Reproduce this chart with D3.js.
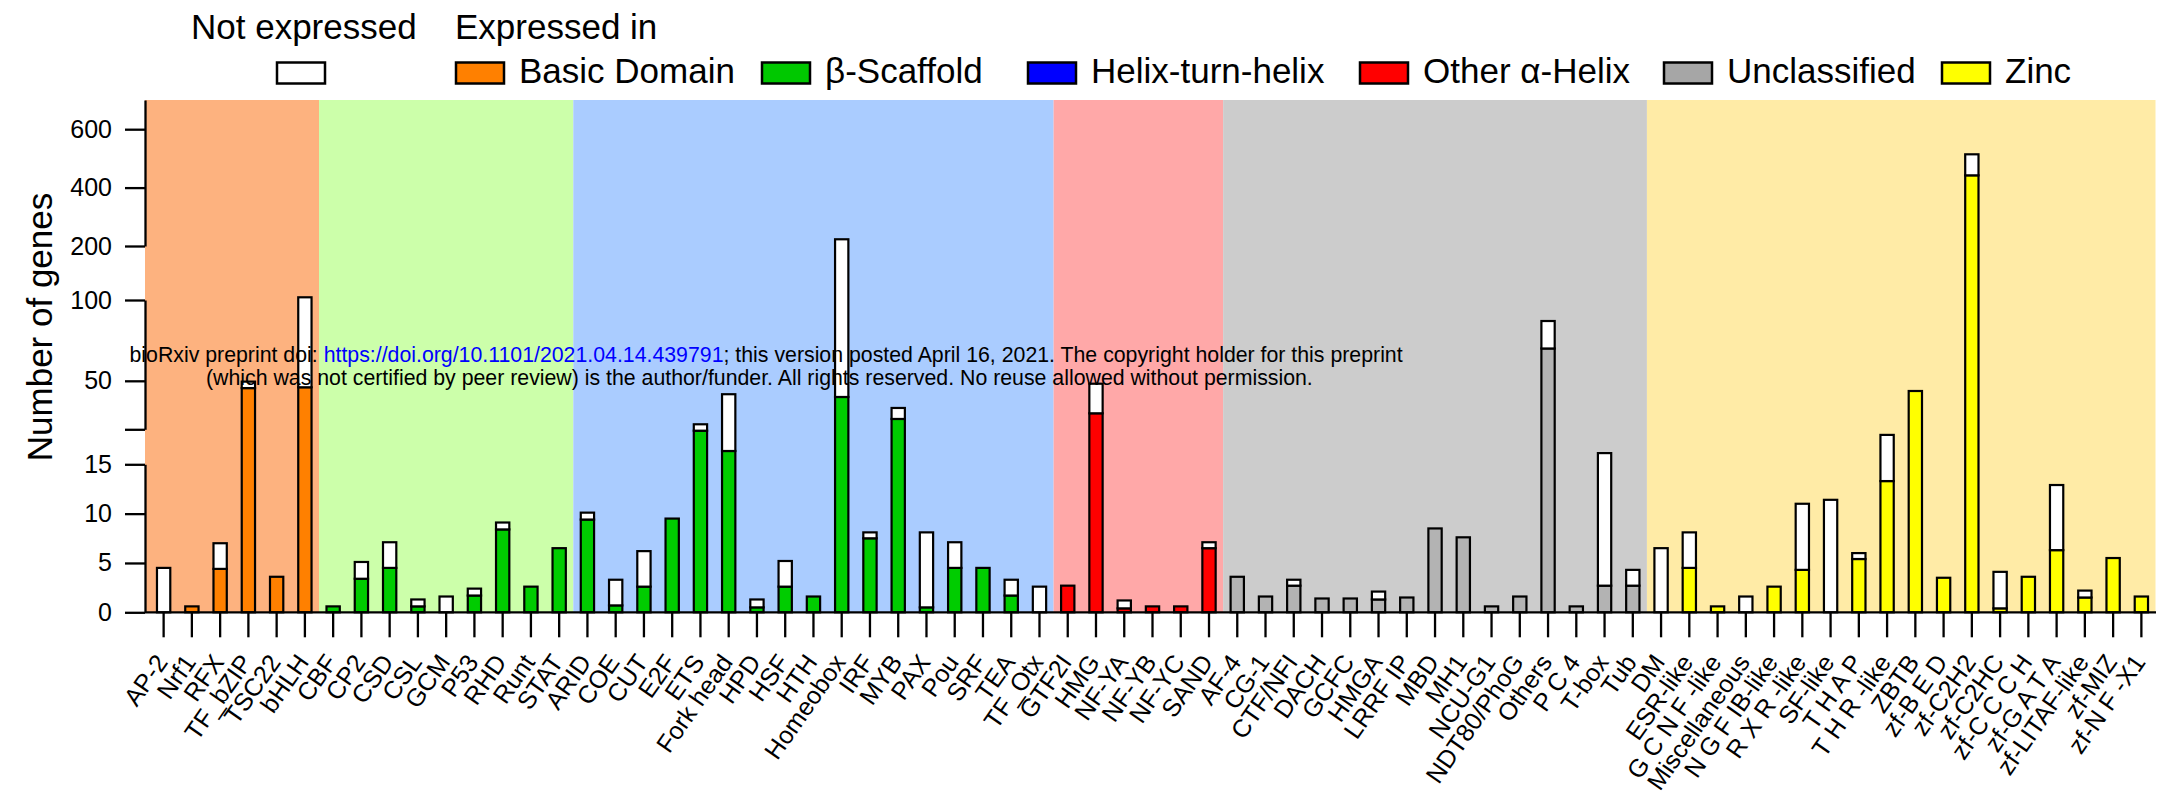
<!DOCTYPE html>
<html>
<head>
<meta charset="utf-8">
<script src="https://cdn.jsdelivr.net/npm/d3@7"></script>
<style>
  html, body { margin: 0; padding: 0; background: #ffffff; }
  svg { display: block; font-family: "Liberation Sans", Arial, Helvetica, sans-serif; }
</style>
</head>
<body>
<svg id="chart" width="2181" height="800"></svg>
<script>
// Transcription-factor families, in plotting order
const families = [
  "AP-2", "Nrf1", "RFX", "TF_bZIP", "TSC22", "bHLH",
  "CBF", "CP2", "CSD", "CSL", "GCM", "P53", "RHD", "Runt", "STAT",
  "ARID", "COE", "CUT", "E2F", "ETS", "Fork head", "HPD", "HSF", "HTH", "Homeobox",
  "IRF", "MYB", "PAX", "Pou", "SRF", "TEA", "TF_Otx",
  "GTF2I", "HMG", "NF-YA", "NF-YB", "NF-YC", "SAND",
  "AF-4", "CG-1", "CTF/NFI", "DACH", "GCFC", "HMGA", "LRRF IP", "MBD", "MH1", "NCU-G1",
  "NDT80/PhoG", "Others", "P C 4", "T-box", "Tub",
  "DM", "ESR-like", "G C N F -like", "Miscellaneous", "N G F IB-like", "R X R -like", "SF-like",
  "T H A P", "T H R -like", "ZBTB", "zf-B E D", "zf-C2H2", "zf-C2HC", "zf-C C C H", "zf-G A T A",
  "zf-LITAF-like", "zf-MIZ", "zf-N F -X1"
];

// Superclasses and how many consecutive families belong to each
const groupNames = ["Basic Domain", "β-Scaffold", "Helix-turn-helix", "Other α-Helix", "Unclassified", "Zinc"];
const groupSizes = [6, 9, 17, 6, 15, 18];

// Genes expressed per family
const expressed = [
  0, 0.6, 4.4, 45.5, 3.6, 46,
  0.6, 3.4, 4.5, 0.6, 0, 1.7, 8.4, 2.6, 6.5,
  9.4, 0.7, 2.6, 9.5, 19.8, 16.9, 0.5, 2.6, 1.6, 40,
  7.5, 26.4, 0.5, 4.5, 4.5, 1.7, 0,
  2.7, 29.9, 0.4, 0.6, 0.6, 6.5,
  3.6, 1.6, 2.7, 1.4, 1.4, 1.3, 1.5, 8.5, 7.6, 0.6,
  1.6, 70, 0.6, 2.7, 2.7,
  0, 4.5, 0.6, 0, 2.6, 4.3, 0,
  5.4, 13.3, 43.7, 3.5, 442, 0.4, 3.6, 6.3,
  1.5, 5.5, 1.6
];

// Genes not expressed per family (stacked on top)
const notExpressed = [
  4.5, 0, 2.6, 4.0, 0, 59,
  0, 1.7, 2.6, 0.7, 1.6, 0.7, 0.7, 0, 0,
  0.7, 2.6, 3.6, 0, 3.3, 24.8, 0.8, 2.6, 0, 183,
  0.6, 6.8, 7.6, 2.6, 0, 1.6, 2.6,
  0, 18.3, 0.8, 0, 0, 0.6,
  0, 0, 0.6, 0, 0, 0.8, 0, 0, 0, 0,
  0, 17, 0, 13.9, 1.6,
  6.5, 3.6, 0, 1.6, 0, 6.7, 11.4,
  0.6, 5.9, 0, 0, 72, 3.7, 0, 6.6,
  0.7, 0, 0
];

// Broken y axis: three linear segments and their ticks
const ySegments = [[0, 15], [20, 100], [200, 700]];
const yTickSets = [[0, 5, 10, 15], [20, 50, 100], [200, 400, 600]];
const yUnlabeled = [20];

// Colours
const bgColors  = ["#fdb27f", "#ccffaa", "#aaccff", "#ffa8a8", "#cccccc", "#ffeba6"];
const barColors = ["#ff8000", "#00cc00", "#00cc00", "#ff0000", "#b3b3b3", "#ffff00"];
const keyColors = ["#ff8000", "#00c800", "#0000ff", "#ff0000", "#a6a6a6", "#ffff00"];

const svg = d3.select("#chart");
svg.append("rect").attr("width", 2181).attr("height", 800).attr("fill", "#ffffff");

const axisX = 145;
const x = d3.scaleBand().domain(families).range([149.5, 2155.5]).padding(0);
const y = d3.scaleLinear()
  .domain([0, 15, 20, 100, 200, 700])
  .range([612.3, 464.3, 429.3, 300, 246, 100]);

// group index of each family
const familyGroup = [];
groupSizes.forEach((n, g) => { for (let i = 0; i < n; i++) familyGroup.push(g); });

// Background bands for each superclass
let start = 0;
const bands = groupSizes.map((n, g) => {
  const first = families[start], last = families[start + n - 1];
  start += n;
  return { g, x0: g === 0 ? axisX : x(first), x1: x(last) + x.bandwidth() };
});
svg.append("g").selectAll("rect").data(bands).join("rect")
  .attr("x", d => d.x0).attr("width", d => d.x1 - d.x0)
  .attr("y", y(700)).attr("height", y(0) - y(700))
  .attr("fill", d => bgColors[d.g]);

// Stacked bars
const barW = 13.3;
const rows = families.map((f, i) => ({
  f, g: familyGroup[i], e: expressed[i], n: notExpressed[i]
}));
const bars = svg.append("g").attr("stroke", "#000").attr("stroke-width", 2.2);
bars.selectAll("rect.expr").data(rows.filter(d => d.e > 0)).join("rect")
  .attr("class", "expr")
  .attr("x", d => x(d.f) + x.bandwidth() / 2 - barW / 2).attr("width", barW)
  .attr("y", d => y(d.e)).attr("height", d => y(0) - y(d.e))
  .attr("fill", d => barColors[d.g]);
bars.selectAll("rect.nexp").data(rows.filter(d => d.n > 0)).join("rect")
  .attr("class", "nexp")
  .attr("x", d => x(d.f) + x.bandwidth() / 2 - barW / 2).attr("width", barW)
  .attr("y", d => y(d.e + d.n)).attr("height", d => y(d.e) - y(d.e + d.n))
  .attr("fill", "#ffffff");

// Preprint notice
const note = svg.append("g").attr("font-size", 21.3).attr("fill", "#000");
const l1 = note.append("text").attr("x", 129.5).attr("y", 362);
l1.append("tspan").text("bioRxiv preprint doi: ");
l1.append("tspan").attr("fill", "#0000ff").text("https://doi.org/10.1101/2021.04.14.439791");
l1.append("tspan").text("; this version posted April 16, 2021. The copyright holder for this preprint");
note.append("text").attr("x", 206).attr("y", 384.5)
  .text("(which was not certified by peer review) is the author/funder. All rights reserved. No reuse allowed without permission.");

// X axis: baseline, ticks and rotated family names
svg.append("line")
  .attr("x1", axisX).attr("x2", 2156).attr("y1", y(0)).attr("y2", y(0))
  .attr("stroke", "#000").attr("stroke-width", 2.3);
const xAxis = svg.append("g").attr("transform", `translate(0,${y(0)})`)
  .call(d3.axisBottom(x).tickSize(25).tickSizeOuter(0));
xAxis.select(".domain").remove();
xAxis.selectAll(".tick line").attr("stroke", "#000").attr("stroke-width", 2.3);
xAxis.selectAll(".tick text")
  .attr("fill", "#000").attr("font-size", 25)
  .attr("x", 0).attr("y", 0).attr("dy", 0)
  .attr("text-anchor", "end")
  .attr("transform", "translate(5,50) rotate(-55)");

// Y axis: one d3 axis per segment
ySegments.forEach((dom, k) => {
  const seg = d3.scaleLinear().domain(dom).range([y(dom[0]), y(dom[1])]);
  const ax = svg.append("g").attr("transform", `translate(${axisX},0)`)
    .call(d3.axisLeft(seg).tickValues(yTickSets[k]).tickSize(20).tickPadding(13).tickSizeOuter(0)
      .tickFormat(d => yUnlabeled.includes(d) ? "" : d));
  ax.select(".domain").attr("stroke", "#000").attr("stroke-width", 2.3);
  ax.selectAll(".tick line").attr("stroke", "#000").attr("stroke-width", 2.3);
  ax.selectAll(".tick text").attr("fill", "#000").attr("font-size", 25);
});

// Y axis title
svg.append("text")
  .attr("transform", "translate(51.5,327) rotate(-90)")
  .attr("text-anchor", "middle").attr("font-size", 35).attr("fill", "#000")
  .text("Number of genes");

// Legend
const legend = svg.append("g").attr("font-size", 35).attr("fill", "#000");
legend.append("text").attr("x", 191).attr("y", 39.3).text("Not expressed");
legend.append("text").attr("x", 455).attr("y", 39.3).text("Expressed in");
legend.append("rect").attr("x", 277).attr("y", 62.5).attr("width", 48).attr("height", 21)
  .attr("fill", "#fff").attr("stroke", "#000").attr("stroke-width", 2.5);
const keyX = [456, 762, 1028, 1360, 1664, 1942];
groupNames.forEach((name, g) => {
  legend.append("rect").attr("x", keyX[g]).attr("y", 62.5).attr("width", 48).attr("height", 21)
    .attr("fill", keyColors[g]).attr("stroke", "#000").attr("stroke-width", 2.5);
  legend.append("text").attr("x", keyX[g] + 63).attr("y", 83).text(name);
});
</script>
</body>
</html>
